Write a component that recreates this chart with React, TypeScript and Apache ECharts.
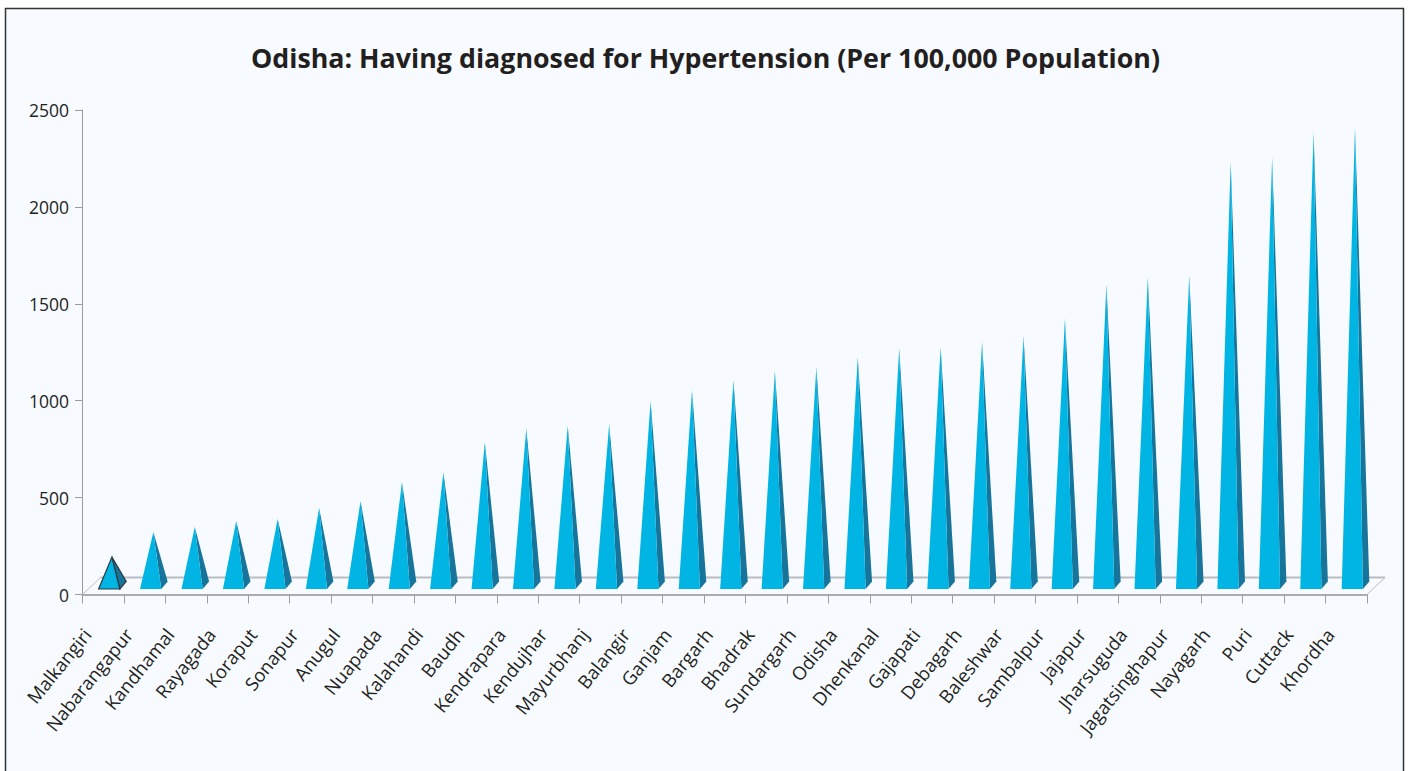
import React, { useEffect, useRef } from "react";
import * as echarts from "echarts";

const districts = ["Malkangiri","Nabarangapur","Kandhamal","Rayagada","Koraput","Sonapur","Anugul","Nuapada","Kalahandi","Baudh","Kendrapara","Kendujhar","Mayurbhanj","Balangir","Ganjam","Bargarh","Bhadrak","Sundargarh","Odisha","Dhenkanal","Gajapati","Debagarh","Baleshwar","Sambalpur","Jajapur","Jharsuguda","Jagatsinghapur","Nayagarh","Puri","Cuttack","Khordha"];
const rates = [193,322,348,379,389,446,482,580,631,786,858,869,879,997,1054,1106,1152,1173,1224,1271,1276,1302,1332,1425,1600,1637,1647,2234,2255,2389,2410];
const yTicks = [0, 500, 1000, 1500, 2000, 2500];
const titleText = "Odisha: Having diagnosed for Hypertension (Per 100,000 Population)";
const outlinedDistrict = "Malkangiri";

const LIGHT = "#00B5E3";
const DARK = "#17759B";
const FLOOR = "#B9BDC1";

export default function App() {
  const ref = useRef<HTMLDivElement>(null);
  useEffect(() => {
    const chart = echarts.init(ref.current!, null, { renderer: "svg" });
    chart.setOption({
      animation: false,
      backgroundColor: "#FFFFFF",
      title: {
        text: titleText,
        left: 700.5,
        top: 39,
        textAlign: "center",
        textStyle: { fontFamily: "Open Sans", fontWeight: 700, fontSize: 26.8, color: "#231F20" },
      },
      graphic: [
        { type: "rect", z: -10, silent: true, shape: { x: 5.5, y: 8.5, width: 1398, height: 800 },
          style: { fill: "#F7FBFF", stroke: "#333333", lineWidth: 1.5 } },
      ],
      grid: { left: 82.5, top: 110, width: 1284.5, height: 484.5 },
      xAxis: {
        type: "category",
        data: districts,
        axisLine: { lineStyle: { color: "#A9ADB1", width: 2 } },
        axisTick: { show: true, length: 9, lineStyle: { color: "#9A9DA0", width: 1 } },
        axisLabel: { interval: 0, rotate: 51, margin: 16, padding: [0, 26, 24, 0], fontFamily: "Open Sans", fontSize: 18.5, color: "#231F20" },
      },
      yAxis: {
        type: "value",
        min: 0,
        max: 2500,
        interval: 500,
        splitLine: { show: false },
        axisLine: { show: true, lineStyle: { color: "#9A9DA0", width: 1 } },
        axisTick: { show: true, length: 7.5, lineStyle: { color: "#9A9DA0", width: 1 } },
        axisLabel: { margin: 13.5, fontFamily: "Open Sans", fontSize: 17.5, color: "#231F20",
          formatter: (v: number) => (yTicks.includes(v) ? String(v) : "") },
      },
      series: [
        {
          type: "custom",
          silent: true,
          z: 1,
          data: [[0, 0]],
          renderItem: (params: any, api: any) => {
            const c = params.coordSys;
            const b = c.y + c.height;
            const dx = 18, dy = 17;
            const ln = (x1: number, y1: number, x2: number, y2: number, w: number) => ({
              type: "line",
              shape: { x1, y1, x2, y2 },
              style: { stroke: FLOOR, lineWidth: w, fill: "none" },
            });
            return {
              type: "group",
              children: [
                ln(c.x, b, c.x + dx, b - dy, 1),
                ln(c.x + dx, b - dy, c.x + c.width + dx, b - dy, 2),
                ln(c.x + c.width, b, c.x + c.width + dx, b - dy, 1),
              ],
            };
          },
        },
        {
          type: "custom",
          silent: true,
          z: 2,
          clip: false,
          data: rates.map((v, i) => [i, v]),
          renderItem: (params: any, api: any) => {
            const i = api.value(0);
            const top = api.coord([i, api.value(1)]);
            const base = api.coord([i, 0]);
            const cx = base[0];
            const yFront = base[1] - 5.5;
            const yBack = base[1] - 13;
            const apex = [cx + 8.7, top[1]];
            const fl = [cx - 4.6, yFront];
            const fr = [cx + 16.6, yFront];
            const br = [cx + 23, yBack];
            const outlined = districts[i] === outlinedDistrict;
            const stroke = outlined ? "#2B3A42" : undefined;
            const lineWidth = outlined ? 1.2 : 0;
            return {
              type: "group",
              children: [
                { type: "polygon", shape: { points: [fr, br, apex] }, style: { fill: DARK, stroke, lineWidth } },
                { type: "polygon", shape: { points: [fl, fr, apex] }, style: { fill: LIGHT, stroke, lineWidth } },
              ],
            };
          },
        },
      ],
    });
    return () => chart.dispose();
  }, []);
  return <div ref={ref} style={{ position: "fixed", left: 0, top: 0, width: 1409, height: 771 }} />;
}
